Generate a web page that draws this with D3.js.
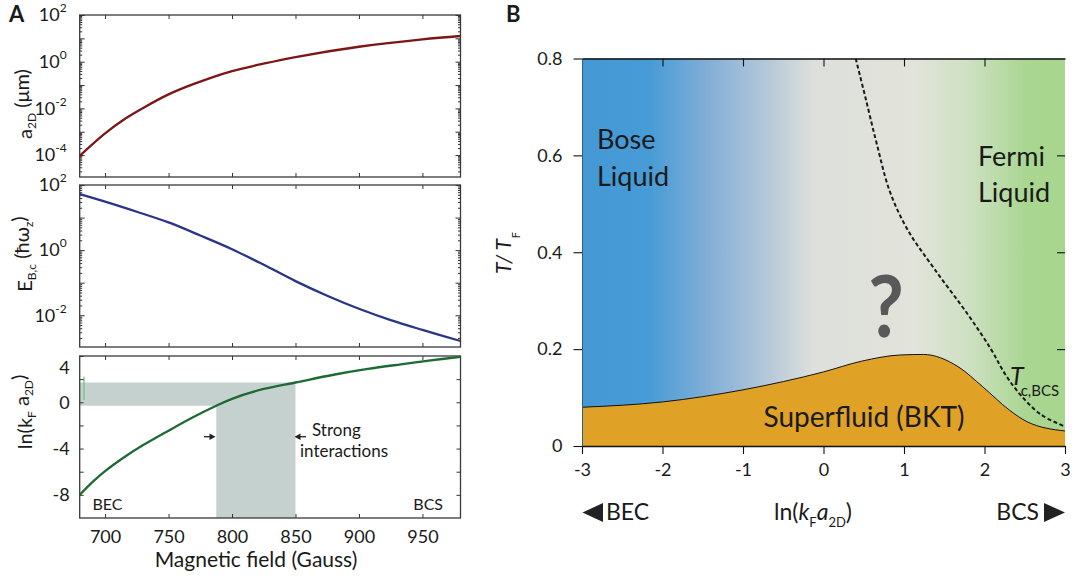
<!DOCTYPE html>
<html><head><meta charset="utf-8">
<script src="https://cdn.jsdelivr.net/npm/d3@7"></script>
<style>
body{margin:0;background:#fff}
svg{display:block}
text{font-family:Lato,"Noto Sans",sans-serif;fill:#1a1a1a}
</style>
</head><body>
<svg id="c" width="1073" height="581"></svg>
<script>
// ---------- Panel A data ----------
const fieldA = [680,700,716,730,750,770,800,822,850,900,950,980];
const a2D    = [9.3e-5,8.5e-4,3.7e-3,1.05e-2,3.98e-2,0.112,0.398,0.759,1.585,4.37,9.12,12.6];
const fieldE = [680,700,725,750,775,800,825,850,875,900,925,950,980];
const EBc    = [52.5,30.9,15.1,7.08,2.82,1.07,0.355,0.112,0.0398,0.0158,0.00708,0.00355,0.00162];
const fieldL = [680,690,700,715,730,750,770,787.6,800,825,850,880,907,933,955,980];
const lnKa   = [-8,-6.9,-5.95,-4.75,-3.7,-2.45,-1.25,-0.3,0.3,1.15,1.71,2.38,2.88,3.28,3.6,3.93];
const fieldTicks = [700,750,800,850,900,950];
const topLogLabels = [1e2,1,1e-2,1e-4];
const midLogLabels = [1e2,1,1e-2];
const lnTicks = [-8,-6,-4,-2,0,2,4];
const lnLabels = [4,0,-4,-8];
const strongField = [787.6,850];
const strongLn = [-0.3,1.7];

// ---------- Panel B data ----------
const lnB  = [-3,-2,-1,0,0.47,0.96,1.24,1.67,1.98,2.31,2.53,3];
const Tbkt = [0.08,0.091,0.116,0.153,0.175,0.188,0.189,0.164,0.122,0.074,0.05,0.031];
const lnBCS = [0.40,0.52,0.66,0.825,1.05,1.38,1.80,2.08,2.25,2.45,2.70,3];
const Tbcs  = [0.80,0.72,0.625,0.525,0.445,0.365,0.27,0.20,0.15,0.105,0.065,0.040];
const xTicksB = [-3,-2,-1,0,1,2,3];
const yTicksB = [0,0.2,0.4,0.6,0.8];
const gradStops = [[0,"#4499d5"],[0.139,"#479bd6"],[0.27,"#86b0d7"],[0.385,"#b5c8d9"],[0.477,"#dcdfdb"],[0.69,"#e2e3da"],[0.806,"#cde0c1"],[0.92,"#a9d690"],[1,"#a8d68e"]];

const svg = d3.select("#c");
const ink = "#1a1a1a";
const fmt = d=>String(d);

// ================= PANEL A =================
const xA = d3.scaleLinear().domain([680,980]).range([79.7,460.5]);
const yTop = d3.scaleLog().domain([1.15e-5,100]).range([177,15]);
const yMid = d3.scaleLog().domain([1.06e-3,100]).range([347,185]);
const yBot = d3.scaleLinear().domain([-10,4]).range([518,356]);

function logSets(scale){
  const [lo,hi]=scale.domain(); const maj=[],min=[];
  for(let k=Math.floor(Math.log10(lo));k<=Math.ceil(Math.log10(hi));k++){
    for(let m=1;m<=9;m++){const v=m*Math.pow(10,k); if(v>=lo*0.999&&v<=hi*1.001)(m===1?maj:min).push(v);}
  }
  return [maj,min];
}
function styleAxis(g){g.selectAll(".domain").remove();g.selectAll("line").attr("stroke","#333").attr("stroke-width",1);g.selectAll("text").remove();}

function panelFrame(y){
  const [r0,r1]=y.range();
  svg.append("g").attr("transform",`translate(0,${r0})`).call(d3.axisBottom(xA).tickValues(fieldTicks).tickSize(-4)).call(styleAxis);
  svg.append("g").attr("transform",`translate(0,${r1})`).call(d3.axisTop(xA).tickValues(fieldTicks).tickSize(-4)).call(styleAxis);
  svg.append("rect").attr("x",xA.range()[0]).attr("y",r1).attr("width",xA.range()[1]-xA.range()[0]).attr("height",r0-r1)
    .attr("fill","none").attr("stroke","#3a3a3a").attr("stroke-width",1.3);
}
function logFrame(y,labels){
  const [maj,min]=logSets(y);
  const L=xA.range()[0],R=xA.range()[1];
  [[maj,5],[min,2.5]].forEach(([vals,len])=>{
    svg.append("g").attr("transform",`translate(${L},0)`).call(d3.axisLeft(y).tickValues(vals).tickSize(-len)).call(styleAxis);
    svg.append("g").attr("transform",`translate(${R},0)`).call(d3.axisRight(y).tickValues(vals).tickSize(-len)).call(styleAxis);
  });
  const g=svg.append("g").attr("transform",`translate(${L},0)`)
    .call(d3.axisLeft(y).tickValues(labels).tickSize(0).tickPadding(13).tickFormat(""));
  g.select(".domain").remove();
  g.selectAll("text").attr("font-size",18).attr("fill",ink).each(function(d){
    const t=d3.select(this);
    t.append("tspan").text("10");
    t.append("tspan").text(fmt(Math.round(Math.log10(d)))).attr("font-size",12).attr("dy","-0.75em");
  });
}
const smooth = d3.curveCatmullRom.alpha(0.5);

// top panel
panelFrame(yTop); logFrame(yTop,topLogLabels);
svg.append("path").datum(fieldA.map((f,i)=>[f,a2D[i]]))
  .attr("d",d3.line().x(d=>xA(d[0])).y(d=>yTop(d[1])).curve(smooth))
  .attr("fill","none").attr("stroke","#7d1517").attr("stroke-width",2.3);

// middle panel
panelFrame(yMid); logFrame(yMid,midLogLabels);
svg.append("path").datum(fieldE.map((f,i)=>[f,EBc[i]]))
  .attr("d",d3.line().x(d=>xA(d[0])).y(d=>yMid(d[1])).curve(smooth))
  .attr("fill","none").attr("stroke","#2b3588").attr("stroke-width",2.3);

// bottom panel: strong interaction shading
const sh = [
  [680,strongLn[1]],[strongField[1],strongLn[1]],[strongField[1],-10],[strongField[0],-10],
  [strongField[0],strongLn[0]],[680,strongLn[0]]
];
svg.append("path").attr("d",d3.line().x(d=>xA(d[0])).y(d=>yBot(d[1]))(sh)+"Z").attr("fill","#c5d1cf");
svg.append("line").attr("x1",84).attr("x2",84).attr("y1",376.7).attr("y2",400).attr("stroke","#6cc478").attr("stroke-width",1.3);

panelFrame(yBot);
svg.append("g").attr("transform",`translate(${xA.range()[0]},0)`).call(d3.axisLeft(yBot).tickValues(lnTicks).tickSize(-4)).call(styleAxis);
svg.append("g").attr("transform",`translate(${xA.range()[1]},0)`).call(d3.axisRight(yBot).tickValues(lnTicks).tickSize(-4)).call(styleAxis);
{
  const g=svg.append("g").attr("transform",`translate(${xA.range()[0]},0)`)
    .call(d3.axisLeft(yBot).tickValues(lnLabels).tickFormat(fmt).tickSize(0).tickPadding(10));
  g.select(".domain").remove();
  g.selectAll("text").attr("font-size",18).attr("fill",ink).attr("font-family","Lato");
  g.selectAll("text").filter(d=>d===4).attr("dy","0.95em");
}
svg.append("path").datum(fieldL.map((f,i)=>[f,lnKa[i]]))
  .attr("d",d3.line().x(d=>xA(d[0])).y(d=>yBot(d[1])).curve(smooth))
  .attr("fill","none").attr("stroke","#1d6b34").attr("stroke-width",2.3);

// x tick labels
{
  const g=svg.append("g").attr("transform",`translate(0,${yBot.range()[0]})`)
    .call(d3.axisBottom(xA).tickValues(fieldTicks).tickFormat(fmt).tickSize(0).tickPadding(12));
  g.select(".domain").remove();
  g.selectAll("text").attr("font-size",18).attr("fill",ink).attr("font-family","Lato");
}
svg.append("text").attr("x",256).attr("y",567).attr("text-anchor","middle").attr("font-size",21).text("Magnetic field (Gauss)");

// arrows
function arrow(x1,x2,y){
  const dir=Math.sign(x2-x1);
  svg.append("line").attr("x1",x1).attr("x2",x2-dir*4).attr("y1",y).attr("y2",y).attr("stroke","#222").attr("stroke-width",1.3);
  svg.append("path").attr("d",`M${x2},${y}L${x2-dir*6},${y-3.2}L${x2-dir*6},${y+3.2}Z`).attr("fill","#222");
}
arrow(204,215.5,436.7); arrow(306,294.5,436.7);
svg.append("text").attr("x",312).attr("y",436).attr("font-size",17).text("Strong");
svg.append("text").attr("x",300).attr("y",457).attr("font-size",17).text("interactions");
svg.append("text").attr("x",92.5).attr("y",510).attr("font-size",16).text("BEC");
svg.append("text").attr("x",443).attr("y",510).attr("text-anchor","end").attr("font-size",16).text("BCS");

// y titles (rotated)
function ytitle(cx,cy,parts){
  const t=svg.append("text").attr("transform",`translate(${cx},${cy}) rotate(-90)`).attr("text-anchor","middle").attr("font-size",20);
  parts.forEach(p=>{const s=t.append("tspan").text(p.t); if(p.sub){s.attr("font-size",12).attr("dy","0.35em");} if(p.back){s.attr("dy","-0.35em");}});
}
ytitle(32,104,[{t:"a"},{t:"2D",sub:1},{t:" (μm)",back:1}]);
ytitle(32,254,[{t:"E"},{t:"B,c",sub:1},{t:" (ħω",back:1},{t:"z",sub:1},{t:")",back:1}]);
ytitle(32,412,[{t:"ln(k"},{t:"F",sub:1},{t:" a",back:1},{t:"2D",sub:1},{t:")",back:1}]);

svg.append("text").attr("x",9).attr("y",22).attr("font-size",22).attr("font-weight","bold").text("A");

// ================= PANEL B =================
const xB = d3.scaleLinear().domain([-3,3]).range([582,1065]);
const yB = d3.scaleLinear().domain([0,0.8]).range([446,58.5]);
const defs = svg.append("defs");
const grad = defs.append("linearGradient").attr("id","bg").attr("gradientUnits","userSpaceOnUse")
  .attr("x1",xB(-3)).attr("x2",xB(3)).attr("y1",0).attr("y2",0);
gradStops.forEach(s=>grad.append("stop").attr("offset",s[0]).attr("stop-color",s[1]));
defs.append("clipPath").attr("id","cpB").append("rect").attr("x",xB(-3)).attr("y",yB(0.8)).attr("width",xB(3)-xB(-3)).attr("height",yB(0)-yB(0.8));

svg.append("rect").attr("x",xB(-3)).attr("y",yB(0.8)).attr("width",xB(3)-xB(-3)).attr("height",yB(0)-yB(0.8)).attr("fill","url(#bg)");

const bkt = lnB.map((x,i)=>[x,Tbkt[i]]);
svg.append("path").datum(bkt).attr("d",d3.area().x(d=>xB(d[0])).y0(yB(0)).y1(d=>yB(d[1])).curve(d3.curveMonotoneX)).attr("fill","#dfa126");
svg.append("path").datum(bkt).attr("d",d3.line().x(d=>xB(d[0])).y(d=>yB(d[1])).curve(d3.curveMonotoneX)).attr("fill","none").attr("stroke","#111").attr("stroke-width",1);
svg.append("path").datum(lnBCS.map((x,i)=>[x,Tbcs[i]])).attr("clip-path","url(#cpB)")
  .attr("d",d3.line().x(d=>xB(d[0])).y(d=>yB(d[1])).curve(d3.curveCatmullRom.alpha(0.5)))
  .attr("fill","none").attr("stroke","#1a1a1a").attr("stroke-width",2).attr("stroke-dasharray","4,2.5");

// axes
function bAxis(g){g.selectAll("line").attr("stroke","#111").attr("stroke-width",1.1);g.select(".domain").attr("stroke","#111").attr("stroke-width",1.3);}
{
  const g=svg.append("g").attr("transform",`translate(${xB(-3)},0)`).call(d3.axisLeft(yB).tickValues(yTicksB).tickFormat(d3.format(".1~f")).tickSize(8.5).tickSizeOuter(0).tickPadding(11)).call(bAxis);
  g.select(".domain").attr("stroke-width",1).attr("stroke","#2a5f8a");
  g.selectAll("text").attr("font-size",18).attr("fill",ink).attr("font-family","Lato");
}
{
  const g=svg.append("g").attr("transform",`translate(0,${yB(0)})`).call(d3.axisBottom(xB).tickValues(xTicksB).tickFormat(fmt).tickSize(8).tickSizeOuter(0).tickPadding(9)).call(bAxis);
  g.selectAll("text").attr("font-size",18).attr("fill",ink).attr("font-family","Lato");
}
svg.append("g").attr("transform",`translate(0,${yB(0.8)})`).call(d3.axisTop(xB).tickValues([-2,-1,0,1,2]).tickSize(-8).tickSizeOuter(0).tickFormat("")).call(bAxis);
{
  const g=svg.append("g").attr("transform",`translate(${xB(3)},0)`).call(d3.axisRight(yB).tickValues([0.2,0.4,0.6]).tickSize(-8).tickFormat("")).call(bAxis);
  g.select(".domain").remove();
}

// labels inside B
svg.append("text").attr("x",597).attr("y",149).attr("font-size",27).text("Bose");
svg.append("text").attr("x",597).attr("y",186).attr("font-size",27).text("Liquid");
svg.append("text").attr("x",978).attr("y",166).attr("font-size",27).text("Fermi");
svg.append("text").attr("x",978).attr("y",202).attr("font-size",27).text("Liquid");
svg.append("text").attr("transform","translate(886,337) scale(0.9,1)").attr("text-anchor","middle").attr("font-size",86).attr("font-weight","bold").style("fill","#595959").text("?");
svg.append("text").attr("x",864).attr("y",427).attr("text-anchor","middle").attr("font-size",28).text("Superfluid (BKT)");
{
  const t=svg.append("text").attr("x",1010).attr("y",385).attr("font-size",25);
  t.append("tspan").attr("font-style","italic").text("T");
  t.append("tspan").attr("font-size",15).attr("dx",-3).attr("dy",11).text("c,BCS");
}
// y title B
{
  const t=svg.append("text").attr("transform",`translate(511,274) rotate(-90)`).attr("font-size",21);
  t.append("tspan").attr("font-style","italic").text("T/ T");
  t.append("tspan").attr("font-size",11).attr("dy",9).attr("dx",1).text("F");
}
// x labels below
svg.append("path").attr("d",`M${xB(-3)+0.5},512.5L603,503L603,522Z`).attr("fill","#222");
svg.append("text").attr("x",606).attr("y",520).attr("font-size",23).text("BEC");
{
  const t=svg.append("text").attr("x",813).attr("y",520).attr("text-anchor","middle").attr("font-size",23);
  t.append("tspan").text("ln(");
  t.append("tspan").attr("font-style","italic").text("k");
  t.append("tspan").attr("font-size",13).attr("dy",7).text("F");
  t.append("tspan").attr("font-style","italic").attr("dy",-7).text("a");
  t.append("tspan").attr("font-size",13).attr("dy",7).text("2D");
  t.append("tspan").attr("dy",-7).text(")");
}
svg.append("text").attr("x",1039).attr("y",520).attr("text-anchor","end").attr("font-size",23).text("BCS");
svg.append("path").attr("d",`M1044,503L1044,522L${xB(3)},512.5Z`).attr("fill","#222");

svg.append("text").attr("x",506).attr("y",22).attr("font-size",22).attr("font-weight","bold").text("B");
</script>
</body></html>
